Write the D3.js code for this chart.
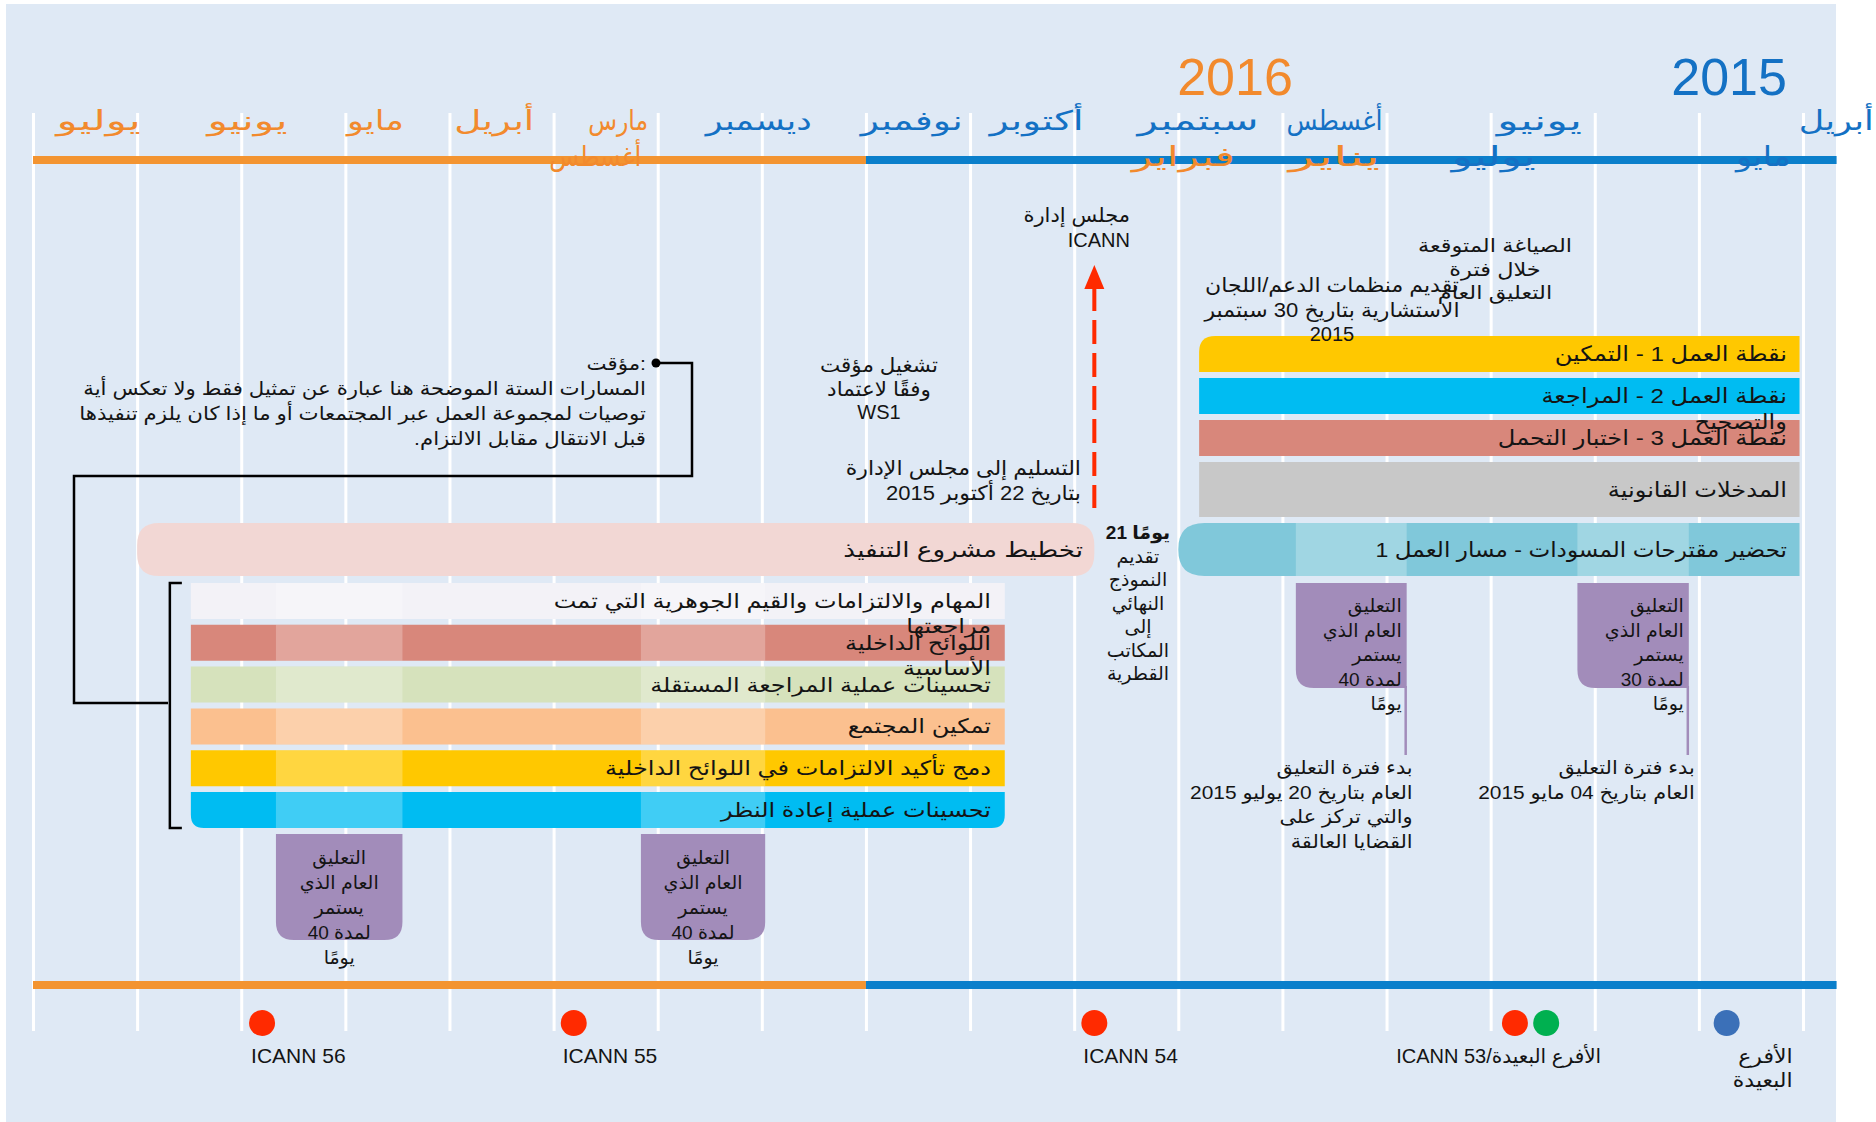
<!DOCTYPE html>
<html>
<head>
<meta charset="utf-8">
<script src="https://cdn.jsdelivr.net/npm/d3@7"></script>
<style>
  body { margin: 0; background: #fff; }
  text { font-family: "Liberation Sans", "DejaVu Sans", sans-serif; }
</style>
</head>
<body>
<div id="chart"></div>
<script>
// ---- data ----
// month labels on the top axis; slot = months after 1 April 2015
const monthNames = ['يوليو', 'يونيو', 'مايو', 'أبريل', 'مارس', 'أغسطس', 'ديسمبر', 'نوفمبر', 'أكتوبر', 'سبتمبر', 'فبراير', 'أغسطس', 'يناير', 'يونيو', 'يوليو', 'مايو', 'أبريل'];
const monthSlots = [16.37, 14.94, 13.71, 12.57, 11.38, 11.6, 10.03, 8.56, 7.36, 5.81, 5.95, 4.5, 4.5, 2.53, 2.97, 0.38, -0.32];
const monthRows = [1, 1, 1, 1, 1, 2, 1, 1, 1, 1, 2, 1, 2, 1, 2, 2, 1];
const monthYears = [2016, 2016, 2016, 2016, 2016, 2016, 2015, 2015, 2015, 2015, 2016, 2015, 2016, 2015, 2015, 2015, 2015];

const yearLabels = [2016, 2015];
const yearSlots = [5.455, 0.71];
const yearSpans = [['2016-01-01', '2016-09-01'], ['2015-03-22', '2016-01-01']];

// work stream 1 (right block)
const ws1Tasks = [['نقطة العمل 1 - التمكين'], ['نقطة العمل 2 - المراجعة', 'والتصحيح'], ['نقطة العمل 3 - اختبار التحمل'], ['المدخلات القانونية']];
const ws1Span = ['2015-04-02', '2015-09-25'];
const draftTask = 'تحضير مقترحات المسودات - مسار العمل 1';
const draftSpan = ['2015-04-02', '2015-10-01'];

// implementation (left block)
const planTask = 'تخطيط مشروع التنفيذ';
const planSpan = ['2015-10-26', '2016-08-01'];
const tracks = [['المهام والالتزامات والقيم الجوهرية التي تمت', 'مراجعتها'], ['اللوائح الداخلية', 'الأساسية'], ['تحسينات عملية المراجعة المستقلة'], ['تمكين المجتمع'], ['دمج تأكيد الالتزامات في اللوائح الداخلية'], ['تحسينات عملية إعادة النظر']];
const trackSpan = ['2015-11-21', '2016-07-16'];

// public comment periods
const commentStart = ['2015-05-04', '2015-07-26', '2016-01-31', '2016-05-15'];
const commentEnd = ['2015-06-06', '2015-08-28', '2016-03-06', '2016-06-21'];
const commentDays = [30, 40, 40, 40];
const commentStartNotes = [
  ['بدء فترة التعليق', 'العام بتاريخ 04 مايو 2015'],
  ['بدء فترة التعليق', 'العام بتاريخ 20 يوليو 2015', 'والتي تركز على', 'القضايا العالقة'],
  [], []
];

// meetings on the bottom axis
const meetingDates = ['2016-06-25', '2016-03-26', '2015-10-26', '2015-06-24', '2015-06-15', '2015-04-23'];
const meetingKinds = ['icann', 'icann', 'icann', 'icann', 'hub', 'remote'];
const meetingLabels = [['ICANN 56'], ['ICANN 55'], ['ICANN 54'], ['ICANN 53/الأفرع البعيدة'], [], ['الأفرع', 'البعيدة']];

// annotations
const noteLines = ['مؤقت:', 'المسارات الستة الموضحة هنا عبارة عن تمثيل فقط ولا تعكس أية', 'توصيات لمجموعة العمل عبر المجتمعات أو ما إذا كان يلزم تنفيذها', 'قبل الانتقال مقابل الالتزام.\u200F'];
const boardLines = ['مجلس إدارة', 'ICANN'];
const deliverLines = ['التسليم إلى مجلس الإدارة', 'بتاريخ 22 أكتوبر 2015'];
const interimLines = ['تشغيل مؤقت', 'وفقًا لاعتماد', 'WS1'];
const soLines = ['تقديم منظمات الدعم/اللجان', 'الاستشارية بتاريخ 30 سبتمبر', '2015'];
const draftingLines = ['الصياغة المتوقعة', 'خلال فترة', 'التعليق العام'];
const finalLines = ['\u200E21 يومًا', 'تقديم', 'النموذج', 'النهائي', 'إلى', 'المكاتب', 'القطرية'];

// ---- styles ----
const C = {
  panel: '#dfe9f5', blue: '#0b7fcb', orange: '#f39431', blueText: '#1471c4', orangeText: '#f28a2d',
  pink: '#f2d7d4', teal: '#80c8da', purple: '#a28cba', ink: '#141414', red: '#ff2a00'
};
const ws1Colors = ['#ffc800', '#00bcf2', '#d8877b', '#c8c8c8'];
const trackColors = ['#f3f2f7', '#d8877b', '#d6e2bc', '#fbc08f', '#ffc800', '#00bcf2'];
const meetingColors = { icann: '#ff2a00', hub: '#00b050', remote: '#3b70b8' };
// drawn width of each month label (the source font spreads the letters)
const monthWidths = [84, 80, 57, 80, 60, 92, 106, 102, 94, 121, 103, 96, 91, 85, 84, 55, 75];

// ---- scales ----
function monthIndex(s) {
  const [y, m, d] = s.split('-').map(Number);
  const days = new Date(y, m, 0).getDate();
  return (y - 2015) * 12 + (m - 4) + (d - 1) / days;
}
const x = d3.scaleLinear().domain([0, 17]).range([1803, 33]);
const xd = s => x(monthIndex(s));

const svg = d3.select('#chart').append('svg')
  .attr('width', 1876).attr('height', 1122);

svg.append('rect').attr('x', 6).attr('y', 4).attr('width', 1830).attr('height', 1118).attr('fill', C.panel);

// rounded-corner rectangle path
function rrect(x0, y0, x1, y1, r) {
  const [tl, tr, br, bl] = r;
  return `M${x0 + tl},${y0} H${x1 - tr} Q${x1},${y0} ${x1},${y0 + tr} V${y1 - br} Q${x1},${y1} ${x1 - br},${y1}` +
    ` H${x0 + bl} Q${x0},${y1} ${x0},${y1 - bl} V${y0 + tl} Q${x0},${y0} ${x0 + tl},${y0} Z`;
}

const isArabic = s => /[\u0600-\u06FF]/.test(s);

function textBlock(g, lines, tx, ty, opt = {}) {
  const grp = g.append('g')
    .attr('text-anchor', opt.anchor || 'middle')
    .style('font-size', (opt.size || 19) + 'px')
    .style('fill', opt.color || C.ink);
  const k = opt.stretch === undefined ? 1.15 : opt.stretch;
  lines.forEach((line, i) => {
    const t = grp.append('text')
      .attr('x', tx).attr('y', ty + i * (opt.lh || 24.5))
      .style('font-weight', i === 0 && opt.boldFirst ? 'bold' : 'normal')
      .text(line);
    if (k !== 1 && isArabic(line)) {
      const len = t.node().getComputedTextLength();
      t.attr('textLength', len * k).attr('lengthAdjust', 'spacingAndGlyphs');
    }
  });
  return grp;
}

// gridlines from an axis
const grid = d3.axisBottom(x).tickValues(d3.range(0, 18)).tickSize(918).tickFormat('');
svg.append('g')
  .attr('transform', 'translate(0,113)')
  .call(grid)
  .call(g => g.select('.domain').remove())
  .selectAll('line').attr('stroke', '#fff').attr('stroke-width', 3);

// year bars, top and bottom
[156, 981].forEach(by => {
  svg.append('g').selectAll('rect').data(yearSpans).join('rect')
    .attr('x', d => xd(d[1]))
    .attr('width', d => xd(d[0]) - xd(d[1]))
    .attr('y', by).attr('height', 8)
    .attr('fill', (d, i) => i === 0 ? C.orange : C.blue);
});

// year and month labels
svg.append('g').selectAll('text').data(yearLabels).join('text')
  .attr('x', (d, i) => x(yearSlots[i])).attr('y', 95)
  .attr('text-anchor', 'middle')
  .style('font-size', '52px')
  .style('fill', d => d === 2016 ? C.orangeText : C.blueText)
  .text(d => d);

svg.append('g').selectAll('text').data(monthNames).join('text')
  .attr('x', (d, i) => x(monthSlots[i]))
  .attr('y', (d, i) => monthRows[i] === 1 ? 130 : 166)
  .attr('text-anchor', 'middle')
  .attr('textLength', (d, i) => monthWidths[i])
  .attr('lengthAdjust', 'spacingAndGlyphs')
  .style('font-size', '27px')
  .style('fill', (d, i) => monthYears[i] === 2016 ? C.orangeText : C.blueText)
  .text(d => d);

// ---- right block: WS1 ----
const ws1Y = [336, 378, 420, 462];
const ws1H = [36, 36, 36, 55];
const wx0 = xd(ws1Span[1]), wx1 = xd(ws1Span[0]);
svg.append('g').selectAll('path').data(ws1Tasks).join('path')
  .attr('d', (d, i) => rrect(wx0, ws1Y[i], wx1, ws1Y[i] + ws1H[i], i === 0 ? [16, 0, 0, 0] : [0, 0, 0, 0]))
  .attr('fill', (d, i) => ws1Colors[i]);
ws1Tasks.forEach((lines, i) => {
  textBlock(svg, lines, 1787, ws1Y[i] + ws1H[i] / 2 + 7, { anchor: 'end', size: 21, lh: 26 });
});

// draft proposals bar
const barY = 523, barH = 53;
svg.append('path')
  .attr('d', rrect(xd(draftSpan[1]), barY, xd(draftSpan[0]), barY + barH, [26, 0, 0, 26]))
  .attr('fill', C.teal);

// implementation planning bar
svg.append('path')
  .attr('d', rrect(xd(planSpan[1]), barY, xd(planSpan[0]), barY + barH, [22, 22, 22, 22]))
  .attr('fill', C.pink);

// six implementation tracks
const ty = d3.scaleBand().domain(d3.range(tracks.length)).range([583, 828]).paddingInner(0.14);
const tx0 = xd(trackSpan[1]), tx1 = xd(trackSpan[0]);
svg.append('g').selectAll('path').data(tracks).join('path')
  .attr('d', (d, i) => rrect(tx0, ty(i), tx1, ty(i) + ty.bandwidth(), i === tracks.length - 1 ? [0, 0, 13, 13] : [0, 0, 0, 0]))
  .attr('fill', (d, i) => trackColors[i]);

// comment-period highlights on the bars
const hl = svg.append('g').attr('fill', '#fff').attr('fill-opacity', 0.25);
commentStart.forEach((s, i) => {
  const a = xd(commentEnd[i]), b = xd(s);
  if (i < 2) {
    hl.append('rect').attr('x', a).attr('width', b - a).attr('y', barY).attr('height', barH);
  } else {
    tracks.forEach((t, j) => {
      hl.append('rect').attr('x', a).attr('width', b - a).attr('y', ty(j)).attr('height', ty.bandwidth());
    });
  }
});

textBlock(svg, [draftTask], 1787, barY + barH / 2 + 7, { anchor: 'end', size: 21, stretch: 1.1 });
textBlock(svg, [planTask], 1083, barY + barH / 2 + 7, { anchor: 'end', size: 21, stretch: 1.25 });
tracks.forEach((lines, i) => {
  textBlock(svg, lines, 991, ty(i) + ty.bandwidth() / 2 + 7, { anchor: 'end', size: 20, lh: 25, stretch: 1.2 });
});

// public comment boxes
commentStart.forEach((s, i) => {
  const a = xd(commentEnd[i]), b = xd(s);
  const right = i < 2;
  const y0 = right ? 583 : 834, y1 = right ? 688 : 940;
  svg.append('path')
    .attr('d', rrect(a, y0, b, y1, right ? [0, 0, 0, 18] : [0, 0, 18, 18]))
    .attr('fill', C.purple);
  const lines = ['التعليق', 'العام الذي', 'يستمر', `لمدة ${commentDays[i]}`, 'يومًا'];
  if (right) {
    svg.append('line').attr('x1', b - 1).attr('x2', b - 1).attr('y1', y1 - 2).attr('y2', 755)
      .attr('stroke', C.purple).attr('stroke-width', 2.5);
    textBlock(svg, lines, b - 5, 612, { anchor: 'end', size: 19, lh: 24.5, stretch: 1 });
    textBlock(svg, commentStartNotes[i], b + 6, 774, { anchor: 'end', size: 19, lh: 24.5, stretch: 1.1 });
  } else {
    textBlock(svg, lines, (a + b) / 2, 864, { size: 19, lh: 25, stretch: 1 });
  }
});

// ---- annotations ----
const boardX = xd(planSpan[0]);
svg.append('line')
  .attr('x1', boardX).attr('x2', boardX).attr('y1', 287).attr('y2', 508)
  .attr('stroke', C.red).attr('stroke-width', 4).attr('stroke-dasharray', '24 9');
svg.append('path')
  .attr('d', `M${boardX},265 L${boardX + 10},289 L${boardX - 10},289 Z`)
  .attr('fill', C.red);

textBlock(svg, boardLines, 1130, 222, { anchor: 'end', size: 20, stretch: 1.05 });
textBlock(svg, deliverLines, 1081, 475, { anchor: 'end', size: 20, stretch: 1.1 });
textBlock(svg, interimLines, 879, 372, { size: 20, lh: 23.5, stretch: 1.07 });
textBlock(svg, soLines, 1332, 292, { size: 20, lh: 24.5, stretch: 1.1 });
textBlock(svg, draftingLines, 1495, 252, { size: 19, lh: 23.5, stretch: 1.18 });
textBlock(svg, finalLines, 1138, 539, { size: 19, lh: 23.5, boldFirst: true, stretch: 1 });

// note and connector bracket
const noteRight = 646;
textBlock(svg, noteLines, noteRight, 370, { anchor: 'end', size: 19, lh: 25, stretch: 1.12 });
svg.append('circle').attr('cx', noteRight + 10).attr('cy', 363).attr('r', 4.5).attr('fill', '#000');
svg.append('path')
  .attr('d', d3.line()([[noteRight + 10, 363], [692, 363], [692, 476], [74, 476], [74, 703], [168, 703]]))
  .attr('fill', 'none').attr('stroke', '#000').attr('stroke-width', 2.5);
svg.append('path')
  .attr('d', `M${tx0 - 9},${ty(0)} H${tx0 - 21} V${ty(5) + ty.bandwidth()} H${tx0 - 9}`)
  .attr('fill', 'none').attr('stroke', '#000').attr('stroke-width', 2.5);

// ---- meetings ----
svg.append('g').selectAll('circle').data(meetingDates).join('circle')
  .attr('cx', d => xd(d)).attr('cy', 1023).attr('r', 13)
  .attr('fill', (d, i) => meetingColors[meetingKinds[i]]);

meetingLabels.forEach((lines, i) => {
  if (!lines.length) return;
  const mx = xd(meetingDates[i]);
  if (meetingKinds[i] === 'remote') {
    textBlock(svg, lines, mx + 66, 1063, { anchor: 'end', size: 20, lh: 24, stretch: 1.1 });
  } else if (i === 3) {
    textBlock(svg, lines, xd(meetingDates[4]) + 55, 1063, { anchor: 'end', size: 20, stretch: 1 });
  } else {
    textBlock(svg, lines, mx - 11, 1063, { anchor: 'start', size: 21 });
  }
});
</script>
</body>
</html>
